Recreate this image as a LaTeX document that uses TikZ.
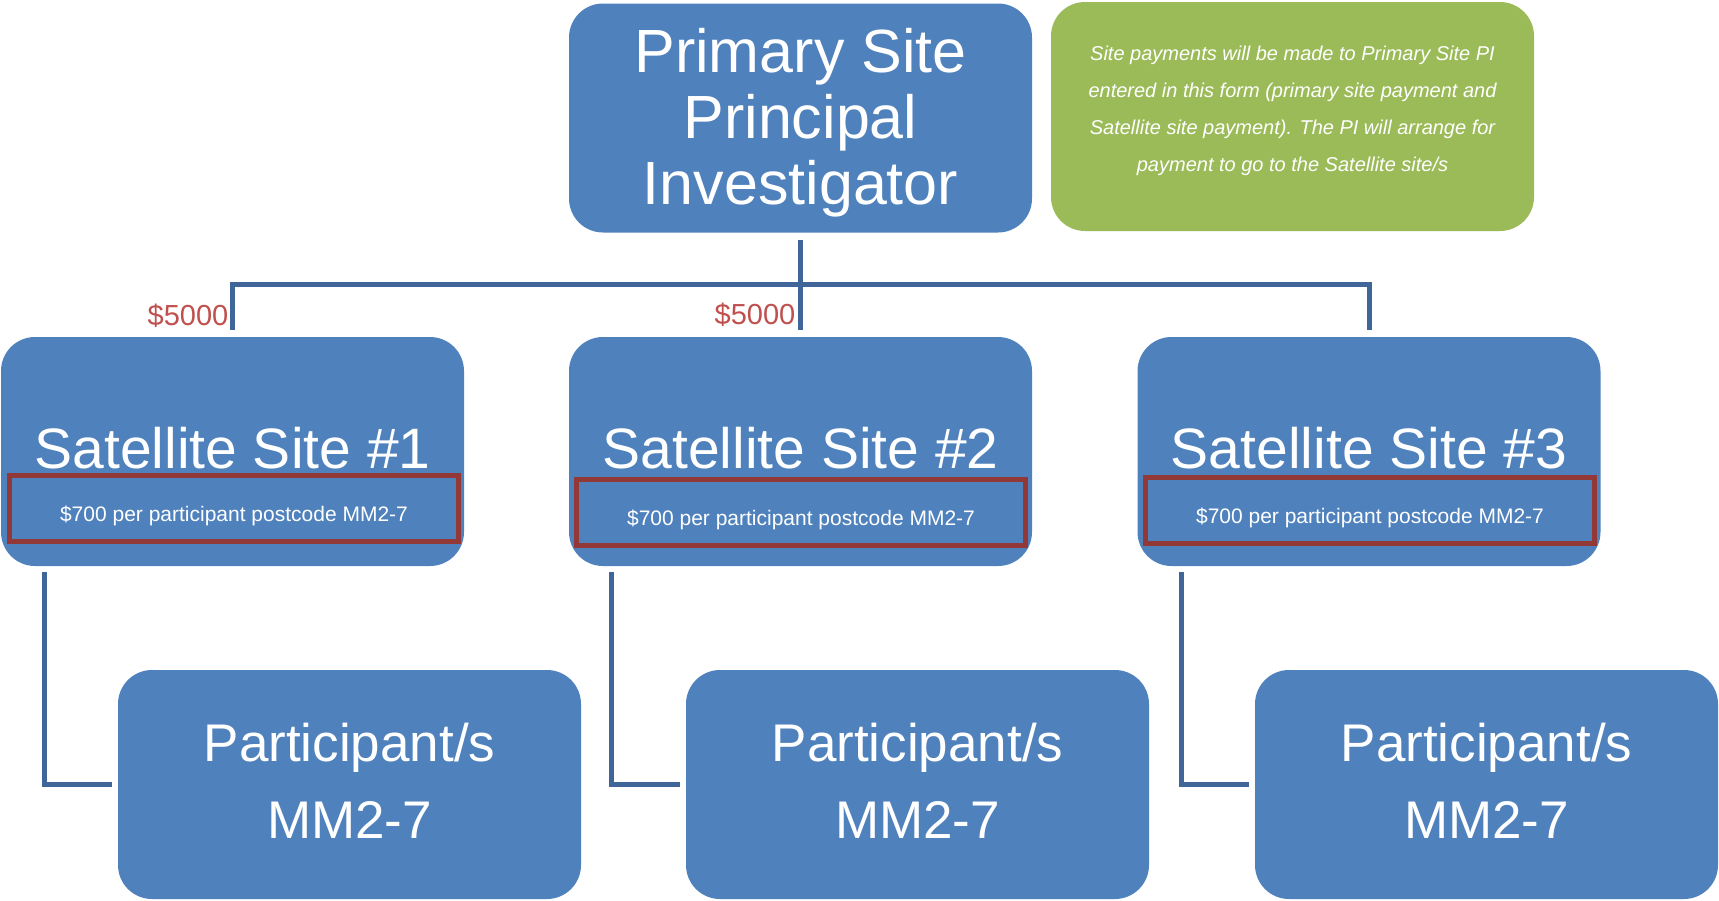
\documentclass[tikz,border=0pt]{standalone}
\usepackage{fontspec}
\setmainfont{Liberation Sans}

\definecolor{boxblue}{HTML}{4F81BD}
\definecolor{linkblue}{HTML}{3F6599}
\definecolor{notegreen}{HTML}{9BBB59}
\definecolor{ratered}{HTML}{923937}
\definecolor{payred}{HTML}{C0504D}

\tikzset{
    bluebox/.style={rectangle, fill=boxblue, text=white, rounded corners=34pt,
        minimum width=463pt, minimum height=229pt, inner sep=0pt, align=center},
    pibox/.style={bluebox, text depth=4pt, font=\fontsize{61}{66}\selectfont},
    sitebox/.style={bluebox, font=\fontsize{57}{66}\selectfont, text height=33pt, text depth=0pt},
    partbox/.style={bluebox, text depth=7pt, font=\fontsize{53}{77}\selectfont},
    notebox/.style={rectangle, fill=notegreen, text=white, rounded corners=34pt,
        minimum width=483pt, minimum height=229pt, inner sep=0pt, align=center,
        text depth=15pt, font=\fontsize{20}{37}\selectfont\itshape},
    ratebox/.style={rectangle, draw=ratered, line width=5pt, text=white,
        minimum width=449pt, minimum height=66pt, inner sep=0pt,
        text height=26pt, text depth=0pt, font=\fontsize{21}{25}\selectfont},
    paylabel/.style={text=payred, inner sep=0pt, anchor=base east, font=\fontsize{29}{34}\selectfont},
    link/.style={draw=linkblue, line width=5pt}
}

\begin{document}
\begin{tikzpicture}[x=1pt, y=-1pt]
    \useasboundingbox (0,0) rectangle (1719,900);

    % top row
    \node (pi) at (800.5, 118) [pibox] {Primary Site\\Principal\\Investigator};
    \node (note) at (1292.5, 116.5) [notebox] {Site payments will be made to Primary Site PI\\
        entered in this form (primary site payment and\\
        Satellite site payment). The PI will arrange for\\
        payment to go to the Satellite site/s};

    % satellite sites
    \node (sat1) at (232.5, 451.5) [sitebox] {Satellite Site \#1};
    \node (sat2) at (800.5, 451.5) [sitebox] {Satellite Site \#2};
    \node (sat3) at (1369, 451.5) [sitebox] {Satellite Site \#3};

    \node (rate1) at (234, 508.5) [ratebox] {\$700 per participant postcode MM2-7};
    \node (rate2) at (801, 512) [ratebox] {\$700 per participant postcode MM2-7};
    \node (rate3) at (1370, 510.5) [ratebox] {\$700 per participant postcode MM2-7};

    % participants
    \node (part1) at (349.5, 784.5) [partbox] {Participant/s\\MM2-7};
    \node (part2) at (917.5, 784.5) [partbox] {Participant/s\\MM2-7};
    \node (part3) at (1486.5, 784.5) [partbox] {Participant/s\\MM2-7};

    % connectors
    \coordinate (bus) at (800.5, 284);
    \draw[link] ([yshift=-7pt]pi.south) -- ([yshift=7pt]sat2.north);
    \draw[link] ([yshift=7pt]sat1.north) |- (bus) -| ([yshift=7pt]sat3.north);

    \draw[link] ([shift={(44,6)}]sat1.south west) |- ([xshift=-6pt]part1.west);
    \draw[link] ([shift={(43,6)}]sat2.south west) |- ([xshift=-6pt]part2.west);
    \draw[link] ([shift={(44,6)}]sat3.south west) |- ([xshift=-6pt]part3.west);

    % payments
    \node (pay1) at ([shift={(-4,-11)}]sat1.north) [paylabel] {\$5000};
    \node (pay2) at ([shift={(-5,-12)}]sat2.north) [paylabel] {\$5000};
\end{tikzpicture}
\end{document}
